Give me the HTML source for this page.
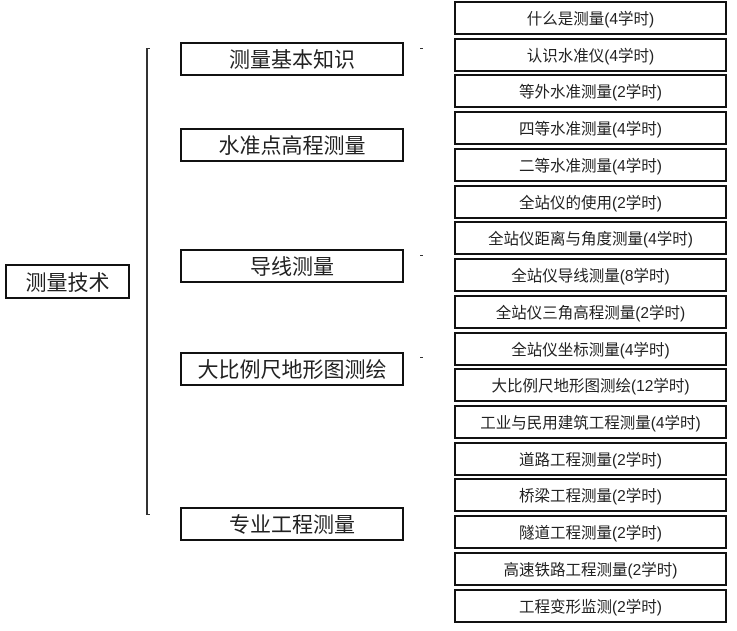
<!DOCTYPE html>
<html><head><meta charset="utf-8"><style>
body{margin:0;width:737px;height:631px;background:#fff;position:relative;overflow:hidden;font-family:"Liberation Sans","Noto Sans CJK SC",sans-serif;color:#222}
.b{position:absolute;box-sizing:border-box;border:2px solid #111;display:flex;align-items:center;justify-content:center;white-space:nowrap}
.m{left:180px;width:224px;height:34px;font-size:21px}
.r{left:454px;width:273px;height:34px;font-size:15.5px}
.l{position:absolute;background:#333}
</style></head><body>
<div class="b" style="left:5px;top:264px;width:125px;height:35px;font-size:21px">测量技术</div>
<div class="l" style="left:146px;top:48px;width:2px;height:467px"></div>
<div class="l" style="left:146px;top:48px;width:4px;height:1px"></div>
<div class="l" style="left:146px;top:514px;width:4px;height:1px"></div>
<div class="l" style="left:420px;top:48px;width:3px;height:1px"></div>
<div class="l" style="left:420px;top:255px;width:3px;height:1px"></div>
<div class="l" style="left:420px;top:357px;width:3px;height:1px"></div>
<div class="b m" style="top:42px">测量基本知识</div>
<div class="b m" style="top:128px">水准点高程测量</div>
<div class="b m" style="top:249px">导线测量</div>
<div class="b m" style="top:352px">大比例尺地形图测绘</div>
<div class="b m" style="top:507px">专业工程测量</div>
<div class="b r" style="top:1px">什么是测量(4学时)</div>
<div class="b r" style="top:38px">认识水准仪(4学时)</div>
<div class="b r" style="top:74px">等外水准测量(2学时)</div>
<div class="b r" style="top:111px">四等水准测量(4学时)</div>
<div class="b r" style="top:148px">二等水准测量(4学时)</div>
<div class="b r" style="top:185px">全站仪的使用(2学时)</div>
<div class="b r" style="top:221px">全站仪距离与角度测量(4学时)</div>
<div class="b r" style="top:258px">全站仪导线测量(8学时)</div>
<div class="b r" style="top:295px">全站仪三角高程测量(2学时)</div>
<div class="b r" style="top:332px">全站仪坐标测量(4学时)</div>
<div class="b r" style="top:368px">大比例尺地形图测绘(12学时)</div>
<div class="b r" style="top:405px">工业与民用建筑工程测量(4学时)</div>
<div class="b r" style="top:442px">道路工程测量(2学时)</div>
<div class="b r" style="top:478px">桥梁工程测量(2学时)</div>
<div class="b r" style="top:515px">隧道工程测量(2学时)</div>
<div class="b r" style="top:552px">高速铁路工程测量(2学时)</div>
<div class="b r" style="top:589px">工程变形监测(2学时)</div>
</body></html>
